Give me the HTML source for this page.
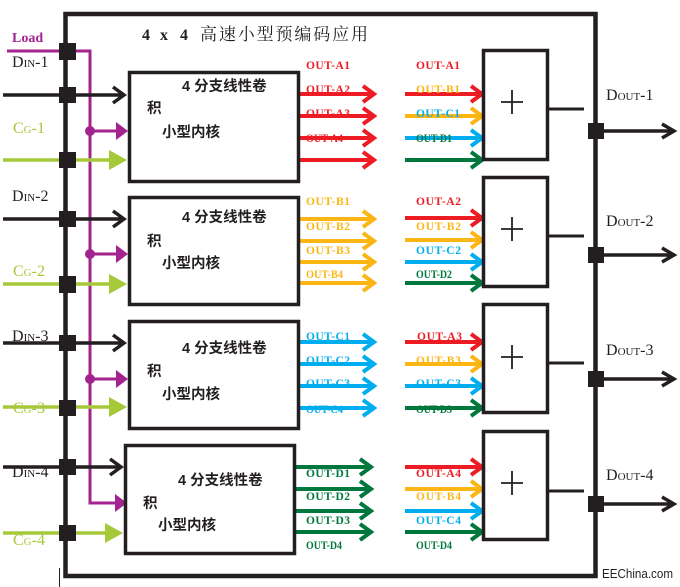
<!DOCTYPE html>
<html><head><meta charset="utf-8"><style>
html,body{margin:0;padding:0;background:#fff;}
svg{display:block;}
.lbl{font-family:"Liberation Serif",serif;font-weight:bold;font-size:11.5px;}
.cjk{font-family:"Liberation Sans","Noto Sans CJK SC",sans-serif;font-weight:bold;font-size:14.5px;fill:#231f20;}
.io{font-family:"Liberation Serif",serif;font-size:16px;}
</style></head><body>
<svg width="680" height="587" viewBox="0 0 680 587" xmlns="http://www.w3.org/2000/svg">
<rect width="680" height="587" fill="#fff"/>
<!-- frame -->
<rect x="65.5" y="14" width="530" height="562" fill="none" stroke="#231f20" stroke-width="4.5"/>
<line x1="59.5" y1="568" x2="59.5" y2="587" stroke="#231f20" stroke-width="1"/>

<!-- Load line -->
<polyline points="7,51 90,51 90,503 116,503" fill="none" stroke="#a3238f" stroke-width="3"/>
<polygon points="115,494 127,503 115,512" fill="#a3238f"/>
<g fill="#a3238f" stroke="#a3238f" stroke-width="3">
<circle cx="90" cy="131" r="5" stroke="none"/><line x1="90" y1="131" x2="117" y2="131"/><polygon points="116,122 128,131 116,140" stroke="none"/>
<circle cx="90" cy="254" r="5" stroke="none"/><line x1="90" y1="254" x2="117" y2="254"/><polygon points="116,245 128,254 116,263" stroke="none"/>
<circle cx="90" cy="379" r="5" stroke="none"/><line x1="90" y1="379" x2="117" y2="379"/><polygon points="116,370 128,379 116,388" stroke="none"/>
</g>

<!-- Din lines -->
<g stroke="#231f20" stroke-width="3.5" fill="none">
<path d="M3 95 H124 M113 87 L124 95 L113 103"/>
<path d="M3 219 H124 M113 211 L124 219 L113 227"/>
<path d="M3 343 H124 M113 335 L124 343 L113 351"/>
<path d="M3 467 H121 M110 459 L121 467 L110 475"/>
</g>
<!-- Cg lines -->
<g stroke="#a6c93a" stroke-width="3.5" fill="#a6c93a">
<line x1="3" y1="160" x2="112" y2="160"/><polygon points="109,150 127,160 109,170" stroke="none"/>
<line x1="3" y1="284" x2="112" y2="284"/><polygon points="109,274 127,284 109,294" stroke="none"/>
<line x1="3" y1="407" x2="112" y2="407"/><polygon points="109,397 127,407 109,417" stroke="none"/>
<line x1="3" y1="533" x2="108" y2="533"/><polygon points="105,523 123,533 105,543" stroke="none"/>
</g>
<!-- left squares -->
<g fill="#231f20">
<rect x="59" y="43" width="17" height="17"/>
<rect x="59" y="87" width="17" height="16"/>
<rect x="59" y="152" width="17" height="16"/>
<rect x="59" y="211" width="17" height="16"/>
<rect x="59" y="276" width="17" height="17"/>
<rect x="59" y="335" width="17" height="16"/>
<rect x="59" y="400" width="17" height="16"/>
<rect x="59" y="459" width="17" height="16"/>
<rect x="59" y="525" width="17" height="16"/>
</g>

<!-- block output arrows (left groups) -->
<g stroke-width="4" fill="none">
<g stroke="#ed1c24">
<path d="M299 94 H373 M363 86 L374 94 L363 102"/>
<path d="M299 116 H373 M363 108 L374 116 L363 124"/>
<path d="M299 138 H373 M363 130 L374 138 L363 146"/>
<path d="M299 160 H373 M363 152 L374 160 L363 168"/>
</g>
<g stroke="#fcb614">
<path d="M299 219 H373 M363 211 L374 219 L363 227"/>
<path d="M299 241 H373 M363 233 L374 241 L363 249"/>
<path d="M299 262 H373 M363 254 L374 262 L363 270"/>
<path d="M299 283 H373 M363 275 L374 283 L363 291"/>
</g>
<g stroke="#00aeef">
<path d="M299 342 H373 M363 334 L374 342 L363 350"/>
<path d="M299 364 H373 M363 356 L374 364 L363 372"/>
<path d="M299 386 H373 M363 378 L374 386 L363 394"/>
<path d="M299 408 H373 M363 400 L374 408 L363 416"/>
</g>
<g stroke="#00773c">
<path d="M295 467 H370 M360 459 L371 467 L360 475"/>
<path d="M295 489 H370 M360 481 L371 489 L360 497"/>
<path d="M295 511 H370 M360 503 L371 511 L360 519"/>
<path d="M295 532 H370 M360 524 L371 532 L360 540"/>
</g>
<!-- right groups -->
<path stroke="#ed1c24" d="M405 94 H481 M471 86 L482 94 L471 102"/>
<path stroke="#fcb614" d="M405 116 H481 M471 108 L482 116 L471 124"/>
<path stroke="#00aeef" d="M405 138 H481 M471 130 L482 138 L471 146"/>
<path stroke="#00773c" d="M405 160 H481 M471 152 L482 160 L471 168"/>
<path stroke="#ed1c24" d="M405 218 H481 M471 210 L482 218 L471 226"/>
<path stroke="#fcb614" d="M405 240 H481 M471 232 L482 240 L471 248"/>
<path stroke="#00aeef" d="M405 262 H481 M471 254 L482 262 L471 270"/>
<path stroke="#00773c" d="M405 283 H481 M471 275 L482 283 L471 291"/>
<path stroke="#ed1c24" d="M405 342 H481 M471 334 L482 342 L471 350"/>
<path stroke="#fcb614" d="M405 364 H481 M471 356 L482 364 L471 372"/>
<path stroke="#00aeef" d="M405 386 H481 M471 378 L482 386 L471 394"/>
<path stroke="#00773c" d="M405 408 H481 M471 400 L482 408 L471 416"/>
<path stroke="#ed1c24" d="M405 467 H481 M471 459 L482 467 L471 475"/>
<path stroke="#fcb614" d="M405 489 H481 M471 481 L482 489 L471 497"/>
<path stroke="#00aeef" d="M405 511 H481 M471 503 L482 511 L471 519"/>
<path stroke="#00773c" d="M405 532 H481 M471 524 L482 532 L471 540"/>
</g>

<!-- blocks -->
<g fill="#fff" stroke="#231f20" stroke-width="3.5">
<rect x="129.5" y="72.5" width="169" height="109"/>
<rect x="129.5" y="197.5" width="169" height="107"/>
<rect x="129.5" y="321.5" width="169" height="107"/>
<rect x="125.5" y="445.5" width="169" height="108"/>
</g>
<!-- adders -->
<g fill="#fff" stroke="#231f20" stroke-width="3.5">
<rect x="483.5" y="50.5" width="64" height="109"/>
<rect x="483.5" y="177.5" width="64" height="109"/>
<rect x="483.5" y="304.5" width="64" height="108"/>
<rect x="483.5" y="431.5" width="64" height="108"/>
</g>
<g stroke="#231f20" stroke-width="1.8">
<path d="M501 102 H523 M512 90 V114"/>
<path d="M501 229 H523 M512 217 V241"/>
<path d="M501 357 H523 M512 345 V369"/>
<path d="M501 483 H523 M512 471 V495"/>
</g>
<g stroke="#231f20" stroke-width="3">
<line x1="548" y1="109" x2="584" y2="109"/>
<line x1="548" y1="236" x2="584" y2="236"/>
<line x1="548" y1="363" x2="584" y2="363"/>
<line x1="548" y1="491" x2="584" y2="491"/>
</g>
<!-- right outputs -->
<g stroke="#231f20" stroke-width="3.5" fill="none">
<path d="M604 131 H673 M662 124 L674 131 L662 138"/>
<path d="M604 255 H673 M662 248 L674 255 L662 262"/>
<path d="M604 379 H673 M662 372 L674 379 L662 386"/>
<path d="M604 504 H673 M662 497 L674 504 L662 511"/>
</g>
<g fill="#231f20">
<rect x="588" y="123" width="16" height="16"/>
<rect x="588" y="247" width="16" height="16"/>
<rect x="588" y="371" width="16" height="16"/>
<rect x="588" y="496" width="16" height="16"/>
</g>

<!-- title -->
<g font-family="Liberation Serif,serif" font-weight="bold" font-size="16" fill="#231f20">
<text x="142" y="40">4</text><text x="160" y="40">x</text><text x="180" y="40">4</text>
</g>
<text x="200" y="40" font-family="Liberation Serif,'Noto Serif CJK SC',serif" font-size="17" fill="#231f20" textLength="168" lengthAdjust="spacing">高速小型预编码应用</text>

<!-- block texts -->
<text class="cjk" x="182" y="91">4 分支线性卷</text>
<text class="cjk" x="147" y="113">积</text>
<text class="cjk" x="162" y="137">小型内核</text>
<text class="cjk" x="182" y="222">4 分支线性卷</text>
<text class="cjk" x="147" y="246">积</text>
<text class="cjk" x="162" y="268">小型内核</text>
<text class="cjk" x="182" y="353">4 分支线性卷</text>
<text class="cjk" x="147" y="376">积</text>
<text class="cjk" x="162" y="399">小型内核</text>
<text class="cjk" x="178" y="485">4 分支线性卷</text>
<text class="cjk" x="143" y="508">积</text>
<text class="cjk" x="158" y="530">小型内核</text>

<!-- left labels -->
<text x="12" y="42" font-family="Liberation Serif,serif" font-weight="bold" font-size="14" fill="#a3238f">Load</text>
<g class="io" fill="#231f20">
<text class="io" x="12" y="67">D<tspan font-size="11">IN</tspan>-1</text>
<text class="io" x="12" y="201">D<tspan font-size="11">IN</tspan>-2</text>
<text class="io" x="12" y="341">D<tspan font-size="11">IN</tspan>-3</text>
<text class="io" x="12" y="477">D<tspan font-size="11">IN</tspan>-4</text>
</g>
<g fill="#a6c93a">
<text class="io" x="13" y="133">C<tspan font-size="11">G</tspan>-1</text>
<text class="io" x="13" y="276">C<tspan font-size="11">G</tspan>-2</text>
<text class="io" x="13" y="413">C<tspan font-size="11">G</tspan>-3</text>
<text class="io" x="13" y="545">C<tspan font-size="11">G</tspan>-4</text>
</g>
<g fill="#231f20">
<text class="io" x="606" y="100">D<tspan font-size="11">OUT</tspan>-1</text>
<text class="io" x="606" y="226">D<tspan font-size="11">OUT</tspan>-2</text>
<text class="io" x="606" y="355">D<tspan font-size="11">OUT</tspan>-3</text>
<text class="io" x="606" y="480">D<tspan font-size="11">OUT</tspan>-4</text>
</g>

<!-- output labels -->
<g class="lbl">
<text class="lbl" fill="#ed1c24" x="306" y="69" textLength="44" lengthAdjust="spacing">OUT-A1</text>
<text class="lbl" fill="#ed1c24" x="306" y="93" textLength="44" lengthAdjust="spacing">OUT-A2</text>
<text class="lbl" fill="#ed1c24" x="306" y="117" textLength="44" lengthAdjust="spacing">OUT-A3</text>
<text class="lbl" fill="#ed1c24" x="306" y="142" textLength="37" lengthAdjust="spacingAndGlyphs">OUT-A4</text>
<text class="lbl" fill="#ed1c24" x="416" y="69" textLength="44" lengthAdjust="spacing">OUT-A1</text>
<text class="lbl" fill="#fcb614" x="416" y="93" textLength="44" lengthAdjust="spacing">OUT-B1</text>
<text class="lbl" fill="#00aeef" x="416" y="117" textLength="44" lengthAdjust="spacing">OUT-C1</text>
<text class="lbl" fill="#00773c" x="416" y="142" textLength="36" lengthAdjust="spacingAndGlyphs">OUT-D1</text>

<text class="lbl" fill="#fcb614" x="306" y="205" textLength="44" lengthAdjust="spacing">OUT-B1</text>
<text class="lbl" fill="#fcb614" x="306" y="230" textLength="44" lengthAdjust="spacing">OUT-B2</text>
<text class="lbl" fill="#fcb614" x="306" y="254" textLength="44" lengthAdjust="spacing">OUT-B3</text>
<text class="lbl" fill="#fcb614" x="306" y="278" textLength="37" lengthAdjust="spacingAndGlyphs">OUT-B4</text>
<text class="lbl" fill="#ed1c24" x="416" y="205" textLength="45" lengthAdjust="spacing">OUT-A2</text>
<text class="lbl" fill="#fcb614" x="416" y="230" textLength="45" lengthAdjust="spacing">OUT-B2</text>
<text class="lbl" fill="#00aeef" x="416" y="254" textLength="45" lengthAdjust="spacing">OUT-C2</text>
<text class="lbl" fill="#00773c" x="416" y="278" textLength="36" lengthAdjust="spacingAndGlyphs">OUT-D2</text>

<text class="lbl" fill="#00aeef" x="306" y="340" textLength="44" lengthAdjust="spacing">OUT-C1</text>
<text class="lbl" fill="#00aeef" x="306" y="364" textLength="44" lengthAdjust="spacing">OUT-C2</text>
<text class="lbl" fill="#00aeef" x="306" y="387" textLength="44" lengthAdjust="spacing">OUT-C3</text>
<text class="lbl" fill="#00aeef" x="306" y="413" textLength="37" lengthAdjust="spacingAndGlyphs">OUT-C4</text>
<text class="lbl" fill="#ed1c24" x="417" y="340" textLength="45" lengthAdjust="spacing">OUT-A3</text>
<text class="lbl" fill="#fcb614" x="416" y="364" textLength="45" lengthAdjust="spacing">OUT-B3</text>
<text class="lbl" fill="#00aeef" x="416" y="387" textLength="45" lengthAdjust="spacing">OUT-C3</text>
<text class="lbl" fill="#00773c" x="416" y="413" textLength="36" lengthAdjust="spacingAndGlyphs">OUT-D3</text>

<text class="lbl" fill="#00773c" x="306" y="477" textLength="44" lengthAdjust="spacing">OUT-D1</text>
<text class="lbl" fill="#00773c" x="306" y="500" textLength="44" lengthAdjust="spacing">OUT-D2</text>
<text class="lbl" fill="#00773c" x="306" y="524" textLength="44" lengthAdjust="spacing">OUT-D3</text>
<text class="lbl" fill="#00773c" x="306" y="549" textLength="36" lengthAdjust="spacingAndGlyphs">OUT-D4</text>
<text class="lbl" fill="#ed1c24" x="416" y="477" textLength="45" lengthAdjust="spacing">OUT-A4</text>
<text class="lbl" fill="#fcb614" x="416" y="500" textLength="45" lengthAdjust="spacing">OUT-B4</text>
<text class="lbl" fill="#00aeef" x="416" y="524" textLength="45" lengthAdjust="spacing">OUT-C4</text>
<text class="lbl" fill="#00773c" x="416" y="549" textLength="36" lengthAdjust="spacingAndGlyphs">OUT-D4</text>
</g>

<text x="602" y="578" font-family="Liberation Sans,sans-serif" font-size="13" fill="#231f20" textLength="71" lengthAdjust="spacingAndGlyphs">EEChina.com</text>
</svg>
</body></html>
